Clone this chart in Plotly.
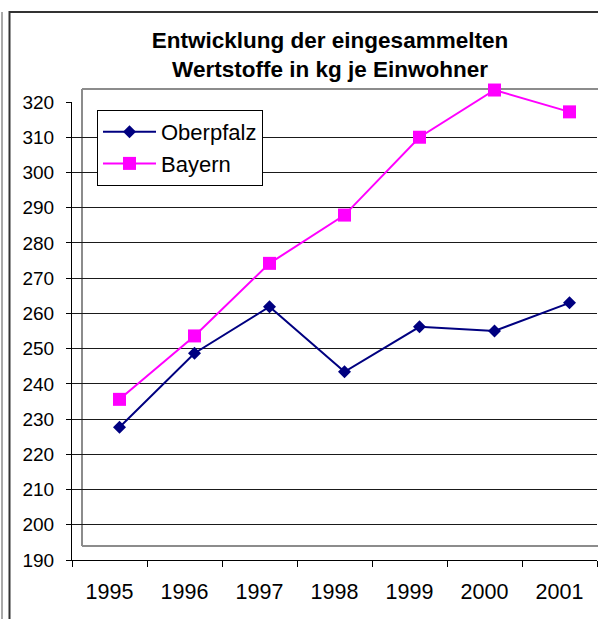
import plotly.graph_objects as go

# ---- data ----
years = [1995, 1996, 1997, 1998, 1999, 2000, 2001]
year_labels = ["1995", "1996", "1997", "1998", "1999", "2000", "2001"]
oberpfalz = [227.7, 248.7, 261.9, 243.4, 256.2, 255.0, 263.0]
bayern = [235.6, 253.6, 274.2, 287.9, 310.0, 323.4, 317.2]
y_ticks = [190, 200, 210, 220, 230, 240, 250, 260, 270, 280, 290, 300, 310, 320]

title_lines = ["Entwicklung der eingesammelten", "Wertstoffe in kg je Einwohner"]

# ---- geometry ----
W, H = 598, 619
L, R, T, B = 72, 1, 89, 59           # plot area: x 72..597, y 89..560
PW = W - L - R                       # 525
PH = H - T - B                       # 471
px_per_unit = 458 / 130              # visible y axis: 320 at y=102, 190 at y=560
vis_top = 458 / PH                   # visible y-axis domain top
data_ymax = 190 + PH / px_per_unit   # data axis extends up to the frame top
x_shift = 10 / 75                    # data are drawn 10px right of the visible axis

FONT = "Arial, 'Liberation Sans', sans-serif"

def px_x(p):
    return (p - L) / PW

def px_y(p):
    return (H - B - p) / PH

fig = go.Figure()
# carrier for the visible axes (no marks)
fig.add_trace(go.Scatter(
    x=years, y=[None] * len(years), xaxis="x", yaxis="y",
    mode="lines", showlegend=False, hoverinfo="skip",
))
fig.add_trace(go.Scatter(
    x=years, y=oberpfalz, name="Oberpfalz", xaxis="x2", yaxis="y2",
    mode="lines+markers",
    line=dict(color="#000080", width=2),
    marker=dict(symbol="diamond", size=10, color="#000080"),
    cliponaxis=False,
))
fig.add_trace(go.Scatter(
    x=years, y=bayern, name="Bayern", xaxis="x2", yaxis="y2",
    mode="lines+markers",
    line=dict(color="#FF00FF", width=2),
    marker=dict(symbol="square", size=13, color="#FF00FF"),
    cliponaxis=False,
))

shapes = []
frame_col = "#8c8c8c"
fx0 = px_x(82)
fy0 = px_y(546)
fy1 = px_y(89)
shapes.append(dict(type="line", xref="paper", yref="paper", x0=fx0, x1=fx0, y0=fy0, y1=fy1,
                   line=dict(color=frame_col, width=2), layer="below"))
shapes.append(dict(type="line", xref="paper", yref="paper", x0=fx0, x1=1.05, y0=fy1, y1=fy1,
                   line=dict(color=frame_col, width=2), layer="below"))
shapes.append(dict(type="line", xref="paper", yref="paper", x0=fx0, x1=1.05, y0=fy0, y1=fy0,
                   line=dict(color=frame_col, width=2), layer="below"))
# outer chart border
shapes.append(dict(type="line", xref="paper", yref="paper", x0=px_x(2), x1=px_x(2), y0=px_y(12), y1=px_y(640),
                   line=dict(color="#555555", width=1)))
shapes.append(dict(type="line", xref="paper", yref="paper", x0=px_x(9.5), x1=px_x(9.5), y0=px_y(11), y1=px_y(640),
                   line=dict(color="#333333", width=2)))
shapes.append(dict(type="line", xref="paper", yref="paper", x0=px_x(9), x1=px_x(600), y0=px_y(12), y1=px_y(12),
                   line=dict(color="#333333", width=2)))

fig.update_layout(
    width=W, height=H,
    margin=dict(l=L, r=R, t=T, b=B, pad=0),
    paper_bgcolor="white", plot_bgcolor="rgba(0,0,0,0)",
    font=dict(family=FONT, color="black"),
    title=dict(
        text="<br>".join(title_lines),
        font=dict(family=FONT, size=22.5, color="black", weight="bold"),
        x=330 / W, xanchor="center", xref="container",
        y=1 - 48 / H, yanchor="top", yref="container",
    ),
    xaxis=dict(
        domain=[0, 1], anchor="y", range=[1994.5, 2001.5],
        tickmode="array", tickvals=years, ticktext=year_labels,
        ticks="", showgrid=False, zeroline=False,
        showline=True, linecolor="black", linewidth=1,
        tickfont=dict(family=FONT, size=21.5, color="black"),
        ticklabelstandoff=12,
        minor=dict(tick0=1994.5, dtick=1, ticks="outside", ticklen=6,
                   tickcolor="black", tickwidth=1, showgrid=False),
    ),
    yaxis=dict(
        domain=[0, vis_top], anchor="x", range=[190, 320],
        tickmode="array", tickvals=y_ticks,
        ticks="outside", ticklen=5, tickcolor="black", tickwidth=1,
        showgrid=True, gridcolor="#1a1a1a", gridwidth=1, zeroline=False,
        showline=True, linecolor="black", linewidth=1,
        tickfont=dict(family=FONT, size=19, color="black"),
        ticklabelstandoff=8,
    ),
    xaxis2=dict(domain=[0, 1], anchor="y2", range=[1994.5 - x_shift, 2001.5 - x_shift], visible=False),
    yaxis2=dict(domain=[0, 1], anchor="x2", range=[190, data_ymax], visible=False),
    legend=dict(
        x=px_x(97), y=px_y(110), xanchor="left", yanchor="top",
        bgcolor="white", bordercolor="black", borderwidth=1,
        font=dict(family=FONT, size=22, color="black"),
        itemwidth=53,
    ),
    shapes=shapes,
    showlegend=True,
)

fig.write_html("out.html", config={"displayModeBar": False},
               post_script="document.body.style.margin='0px';document.body.style.overflow='hidden';")
